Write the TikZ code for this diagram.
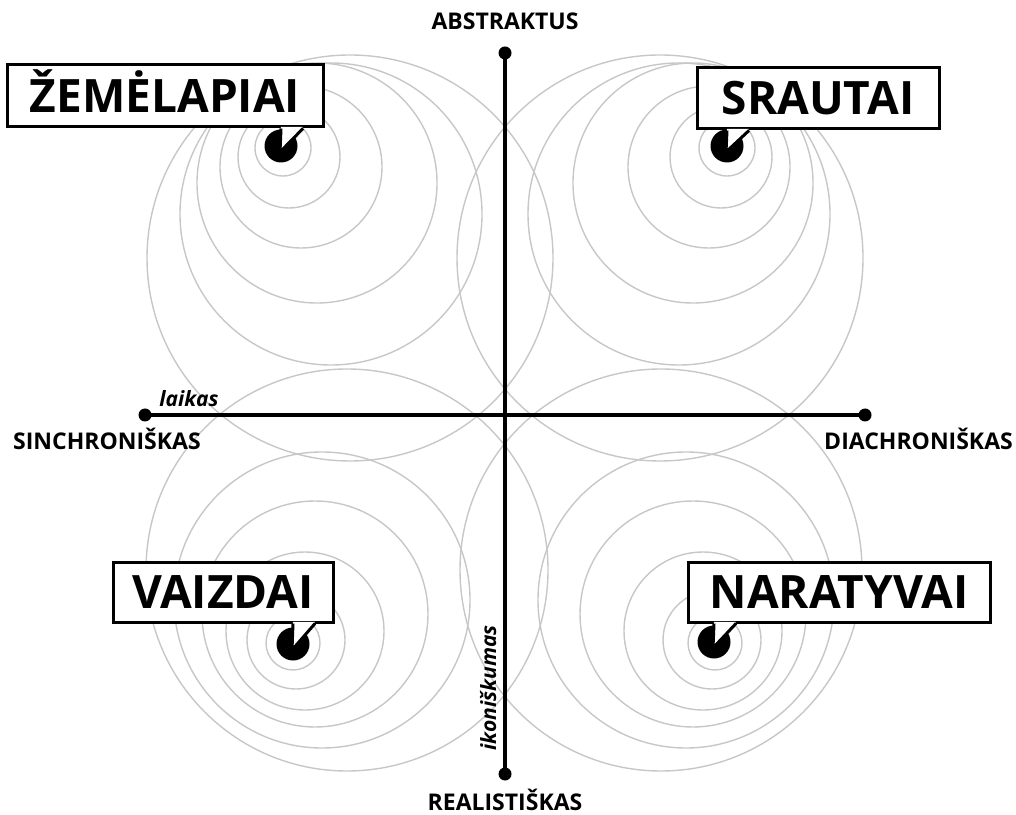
\documentclass[tikz,border=0pt]{standalone}
\usepackage{fontspec}
\setmainfont{Open Sans}
\usetikzlibrary{positioning,calc}

\begin{document}
\begin{tikzpicture}[
  x=1pt, y=1pt,
  ring/.style={draw=black!22, line width=1.4pt},
  axisline/.style={line width=3.6pt},
  enddot/.style={circle, fill=black, inner sep=0pt, minimum size=13pt},
  spot/.style={circle, fill=black, inner sep=0pt, minimum size=33pt},
  tag/.style={rectangle, draw, line width=3pt, fill=white, inner sep=0pt, text height=33pt, text depth=0pt, font=\bfseries\fontsize{46}{46}\selectfont},
  pole/.style={inner sep=0pt, font=\bfseries\fontsize{23}{23}\selectfont},
  axisname/.style={inner sep=0pt, font=\bfseries\itshape\fontsize{21}{21}\selectfont},
  beak/.style={line width=3pt, line join=miter}
]
\useasboundingbox (0,0) rectangle (1016,814);

% rings, top left
\draw[ring] (283,666) circle[radius=28pt];
\draw[ring] (289,657) circle[radius=51pt];
\draw[ring] (301,647) circle[radius=81pt];
\draw[ring] (317,631) circle[radius=120pt];
\draw[ring] (331,600) circle[radius=151pt];
\draw[ring] (350,556) circle[radius=203pt];
% rings, top right
\draw[ring] (727,666) circle[radius=28pt];
\draw[ring] (721,657) circle[radius=51pt];
\draw[ring] (709,647) circle[radius=81pt];
\draw[ring] (693,631) circle[radius=120pt];
\draw[ring] (679,600) circle[radius=151pt];
\draw[ring] (660,556) circle[radius=203pt];
% rings, bottom left
\draw[ring] (293,171) circle[radius=27pt];
\draw[ring] (296,174) circle[radius=49pt];
\draw[ring] (305,183) circle[radius=79pt];
\draw[ring] (315,200) circle[radius=113pt];
\draw[ring] (322,214) circle[radius=148pt];
\draw[ring] (347,244) circle[radius=201pt];
% rings, bottom right
\draw[ring] (715,171) circle[radius=27pt];
\draw[ring] (712,174) circle[radius=49pt];
\draw[ring] (703,183) circle[radius=79pt];
\draw[ring] (693,200) circle[radius=113pt];
\draw[ring] (686,214) circle[radius=148pt];
\draw[ring] (661,244) circle[radius=201pt];

% axes
\node[enddot] (abs) at (505,761) {};
\node[enddot] (real) at (505,40) {};
\node[enddot] (sync) at (145,399) {};
\node[enddot] (diac) at (865,399) {};
\draw[axisline] (abs.center) -- (real.center);
\draw[axisline] (sync.center) -- (diac.center);

\node[pole, above=16pt of abs] (abstxt) {ABSTRAKTUS};
\node[pole, below=8pt of real] (realtxt) {REALISTIŠKAS};
\node[pole, anchor=base west] (synctxt) at (13,364) {SINCHRONIŠKAS};
\node[pole, anchor=base east] (diactxt) at (1013,364) {DIACHRONIŠKAS};
\node[axisname, anchor=base] (time) at (189,407) {laikas};
\node[axisname, anchor=base, rotate=90] (icon) at (496,126) {ikoniškumas};

% tags
\node[spot] (zemspot) at (281,668) {};
\node[tag, minimum width=316pt, minimum height=62pt] (zem) at (165,718) {ŽEMĖLAPIAI};
\node[spot] (srspot) at (727,668) {};
\node[tag, minimum width=242pt, minimum height=61pt] (sr) at (818,715.5) {SRAUTAI};
\node[spot] (vaspot) at (293,170) {};
\node[tag, minimum width=220pt, minimum height=60pt] (va) at (223,222) {VAIZDAI};
\node[spot] (naspot) at (714,172) {};
\node[tag, minimum width=302pt, minimum height=60pt] (na) at (839,222) {NARATYVAI};

% beaks
\coordinate (zemL) at (zemspot.center |- zem.south);
\coordinate (zemR) at ($(zemL)+(22,0)$);
\coordinate (zemT) at ($(zemspot.center)+(-1,-6)$);
\fill[white] ($(zemL)+(0,1.6)$) -- (zemT) -- ($(zemR)+(0,1.6)$) -- cycle;
\draw[beak] (zemL) -- (zemT) -- (zemR);

\coordinate (srL) at (srspot.center |- sr.south);
\coordinate (srR) at ($(srL)+(22,0)$);
\coordinate (srT) at ($(srspot.center)+(-1,-6)$);
\fill[white] ($(srL)+(0,1.6)$) -- (srT) -- ($(srR)+(0,1.6)$) -- cycle;
\draw[beak] (srL) -- (srT) -- (srR);

\coordinate (vaL) at (vaspot.center |- va.south);
\coordinate (vaR) at ($(vaL)+(22,0)$);
\coordinate (vaT) at ($(vaspot.center)+(-1,-6)$);
\fill[white] ($(vaL)+(0,1.6)$) -- (vaT) -- ($(vaR)+(0,1.6)$) -- cycle;
\draw[beak] (vaL) -- (vaT) -- (vaR);

\coordinate (naL) at (naspot.center |- na.south);
\coordinate (naR) at ($(naL)+(22,0)$);
\coordinate (naT) at ($(naspot.center)+(-1,-6)$);
\fill[white] ($(naL)+(0,1.6)$) -- (naT) -- ($(naR)+(0,1.6)$) -- cycle;
\draw[beak] (naL) -- (naT) -- (naR);

\end{tikzpicture}
\end{document}
